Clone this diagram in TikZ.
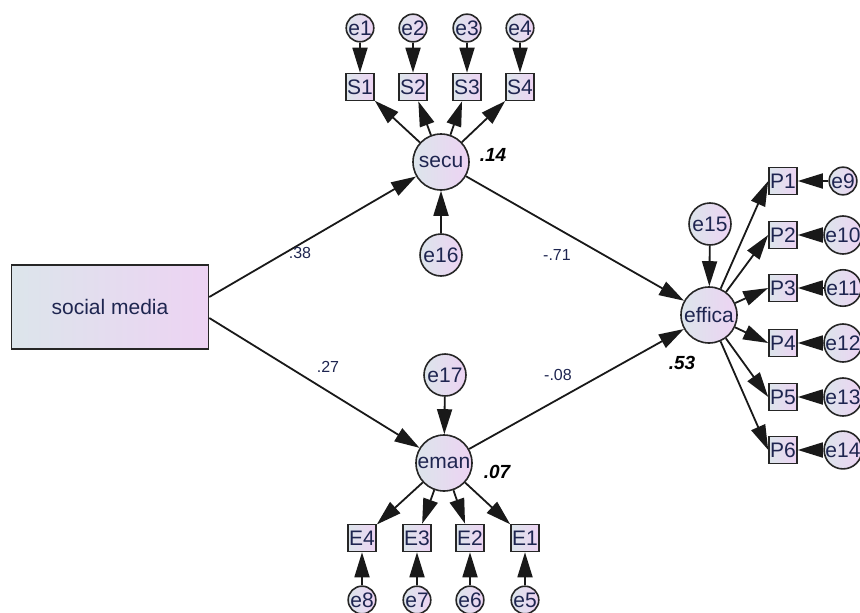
\documentclass[tikz,border=0pt]{standalone}
\usepackage{fontspec}
\setmainfont{Liberation Sans}
\usetikzlibrary{arrows.meta}
\definecolor{cA}{HTML}{DCE5EB}
\definecolor{cB}{HTML}{EDD3F3}
\definecolor{txt}{HTML}{1E2550}
\begin{document}
\begin{tikzpicture}[x=1pt,y=-1pt,
 base/.style={draw=black!85, line width=1.6pt, left color=cA, right color=cB, text=txt, font=\fontsize{21}{24}\selectfont, inner sep=0pt},
 lat/.style={base, circle, minimum size=56pt},
 err/.style={base, circle, minimum size=27pt},
 errb/.style={base, circle, minimum size=42pt},
 obs/.style={base, rectangle, minimum width=28pt, minimum height=27pt},
 arr/.style={line width=1.8pt, draw=black!90, -{Triangle[length=25pt,width=15pt]}},
 lab/.style={font=\fontsize{16}{18}\selectfont, text=txt},
 rsq/.style={font=\bfseries\itshape\fontsize{19}{21}\selectfont, text=black}
]
\useasboundingbox (0,0) rectangle (860,613);
% exogenous
\node[base, rectangle, minimum width=197pt, minimum height=84pt] (sm) at (110,307) {social media};
% latents
\node[lat] (secu) at (441,162) {secu};
\node[lat] (eman) at (444,463) {eman};
\node[lat] (effica) at (709,315) {effica};
% disturbances
\node[errb] (e16) at (441,255) {e16};
\node[errb] (e17) at (445,375) {e17};
\node[errb] (e15) at (710,224) {e15};
% secu indicators
\foreach \i/\x in {1/360,2/413,3/467,4/520}{
  \node[obs] (S\i) at (\x,87) {S\i};
  \node[err] (e\i) at (\x,28) {e\i};
}
% eman indicators
\foreach \i/\x/\e in {4/362/8,3/417/7,2/470/6,1/525/5}{
  \node[obs] (E\i) at (\x,538) {E\i};
  \node[err] (e\e) at (\x,600) {e\e};
}
% effica indicators
\foreach \i/\y/\e in {1/181/9,2/235/10,3/288/11,4/343/12,5/397/13,6/450/14}{
  \node[obs] (P\i) at (783,\y) {P\i};
  \node[err] (e\e) at (843,\y) {e\e};
}
% connectors
\draw[arr] ([yshift=10pt]sm.east) -- (secu);
\draw[arr] ([yshift=-11pt]sm.east) -- (eman);
\draw[arr] (secu) -- (effica);
\draw[arr] (eman) -- (effica);
\draw[arr] (e16) -- (secu);
\draw[arr] (e17) -- (eman);
\draw[arr] (e15) -- (effica);
\foreach \i in {1,2,3,4}{
  \draw[arr] (secu) -- (S\i);
  \draw[arr] (e\i) -- (S\i);
}
\foreach \i/\e in {4/8,3/7,2/6,1/5}{
  \draw[arr] (eman) -- (E\i);
  \draw[arr] (e\e) -- (E\i);
}
\foreach \i/\e in {1/9,2/10,3/11,4/12,5/13,6/14}{
  \draw[arr] (effica) -- (P\i.west);
  \draw[arr] (e\e) -- (P\i);
}
% labels
\node[lab] (l38) at (300,253) {.38};
\node[lab] (l27) at (328,367) {.27};
\node[lab] (l71) at (557,255) {-.71};
\node[lab] (l08) at (558,375) {-.08};
\node[rsq] (r14) at (493,155) {.14};
\node[rsq] (r07) at (497,472) {.07};
\node[rsq] (r53) at (682,363) {.53};
\end{tikzpicture}
\end{document}
